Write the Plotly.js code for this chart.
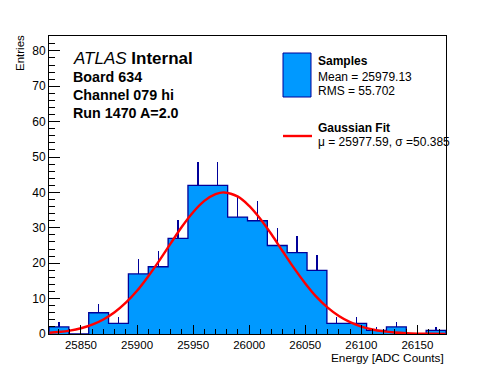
<!DOCTYPE html>
<html><head><meta charset="utf-8">
<script src="https://cdn.plot.ly/plotly-3.0.1.min.js"></script>
<style>html,body{margin:0;padding:0;background:#fff}#c{width:496px;height:372px}</style>
</head><body><div id="c"></div>
<script>
// ---- data ----
var xMin = 25821.5;
var xMax = 26175.5;
var counts = [2, 0, 6, 3, 17, 19, 27, 42, 42, 33, 32, 25, 23, 18, 3, 3, 1, 2, 0, 1];
var fitX = [25822, 25830, 25840, 25850, 25860, 25870, 25880, 25890, 25900, 25910, 25920, 25930, 25940, 25950, 25960, 25970, 25977.6, 25990, 26000, 26010, 26020, 26030, 26040, 26050, 26060, 26070, 26080, 26090, 26100, 26110, 26120, 26130, 26140, 26150, 26160, 26175];
var fitY = [0.34, 0.55, 0.96, 1.62, 2.63, 4.10, 6.13, 8.84, 12.2, 16.3, 20.8, 25.6, 30.3, 34.4, 37.6, 39.5, 40.0, 38.8, 36.2, 32.5, 28.1, 23.3, 18.6, 14.3, 10.5, 7.46, 5.08, 3.33, 2.10, 1.27, 0.74, 0.41, 0.22, 0.12, 0.06, 0.02];
var xTicks = [25850, 25900, 25950, 26000, 26050, 26100, 26150];
var yTicks = [0, 10, 20, 30, 40, 50, 60, 70, 80];
var legendTexts = ["Samples", "Mean = 25979.13", "RMS = 55.702", "Gaussian Fit", "\u03bc = 25977.59, \u03c3 =50.385"];
var infoTexts = ["<i>ATLAS</i> <b>Internal</b>", "<b>Board 634</b>", "<b>Channel 079 hi</b>", "<b>Run 1470 A=2.0</b>"];

// ---- derived ----
var nb = counts.length;
var bw = (xMax - xMin) / nb;
var centers = counts.map(function(_, i){ return xMin + bw * (i + 0.5); });
var errs = counts.map(function(c){ return Math.sqrt(c); });
var stepX = [xMin], stepY = [0];
for (var i = 0; i < nb; i++) { stepX.push(xMin + bw * i); stepY.push(counts[i]); }
stepX.push(xMax); stepY.push(counts[nb - 1]);
stepX.push(xMax); stepY.push(0);

var FONT = "Liberation Sans, Arial, Helvetica, sans-serif";
var NAVY = "#000099";
var FILL = "#0099ff";

var traces = [
  { type: "bar", x: centers, y: counts, width: bw, marker: { color: FILL, line: { width: 0 } },
    error_y: { type: "data", symmetric: false, array: errs, arrayminus: counts.map(function(){return 0;}), width: 0, thickness: 1.3, color: NAVY },
    hoverinfo: "skip" },
  { type: "scatter", mode: "lines", x: stepX, y: stepY, line: { color: NAVY, width: 1.3, shape: "hv" }, hoverinfo: "skip" },
  { type: "scatter", mode: "lines", x: fitX, y: fitY, line: { color: "#ff0000", width: 2.4, shape: "spline" }, hoverinfo: "skip" }
];

function px2x(px){ return (px - 49) / 397; }
function px2y(py){ return (334 - py) / 298; }

var ann = [];
var infoY = [58, 76.5, 95, 113];
var infoSize = [17, 14.3, 14.3, 14.3];
for (var k = 0; k < infoTexts.length; k++) {
  ann.push({ xref: "paper", yref: "paper", x: px2x(71), y: px2y(infoY[k]), xanchor: "left", yanchor: "middle",
    text: infoTexts[k], showarrow: false, font: { family: FONT, size: infoSize[k], color: "#000" } });
}
var legY = [61, 77, 91, 128, 142];
for (var k = 0; k < legendTexts.length; k++) {
  var t = (k === 0 || k === 3) ? "<b>" + legendTexts[k] + "</b>" : legendTexts[k];
  ann.push({ xref: "paper", yref: "paper", x: px2x(316), y: px2y(legY[k]), xanchor: "left", yanchor: "middle",
    text: t, showarrow: false, font: { family: FONT, size: 12, color: "#000" } });
}
ann.push({ xref: "paper", yref: "paper", x: px2x(20), y: px2y(33), xanchor: "center", yanchor: "top", textangle: -90,
  text: "Entries", showarrow: false, font: { family: FONT, size: 11.5, color: "#000" } });
ann.push({ xref: "paper", yref: "paper", x: 1, y: px2y(348.5), xanchor: "right", yanchor: "top",
  text: "Energy [ADC Counts]", showarrow: false, font: { family: FONT, size: 11.8, color: "#000" } });

var shapes = [
  { type: "rect", xref: "paper", yref: "paper", x0: px2x(283), x1: px2x(311), y0: px2y(97), y1: px2y(53),
    fillcolor: FILL, line: { color: NAVY, width: 1 } },
  { type: "line", xref: "paper", yref: "paper", x0: px2x(283), x1: px2x(312), y0: px2y(136), y1: px2y(136),
    line: { color: "#ff0000", width: 2.4 } }
];

var layout = {
  width: 496, height: 372,
  margin: { l: 49, r: 50, t: 36, b: 38, pad: 0 },
  paper_bgcolor: "#fff", plot_bgcolor: "#fff",
  showlegend: false, bargap: 0,
  font: { family: FONT, size: 12, color: "#000" },
  xaxis: { range: [xMin, xMax], tickmode: "array", tickvals: xTicks, ticktext: xTicks.map(String),
    ticks: "inside", ticklen: 9, tickwidth: 1, tickcolor: "#000",
    minor: { dtick: 10, ticks: "inside", ticklen: 5, tickwidth: 1, tickcolor: "#000" },
    showline: true, linecolor: "#000", linewidth: 1, mirror: true, showgrid: false, zeroline: false,
    tickfont: { family: FONT, size: 11.5 } },
  yaxis: { range: [0, 84.2], tickmode: "array", tickvals: yTicks, ticktext: yTicks.map(String),
    ticks: "inside", ticklen: 11, tickwidth: 1, tickcolor: "#000",
    minor: { dtick: 2, ticks: "inside", ticklen: 6, tickwidth: 1, tickcolor: "#000" },
    showline: true, linecolor: "#000", linewidth: 1, mirror: true, showgrid: false, zeroline: false,
    tickfont: { family: FONT, size: 12 } },
  annotations: ann, shapes: shapes
};
Plotly.newPlot("c", traces, layout, { staticPlot: true, displayModeBar: false });
</script></body></html>
